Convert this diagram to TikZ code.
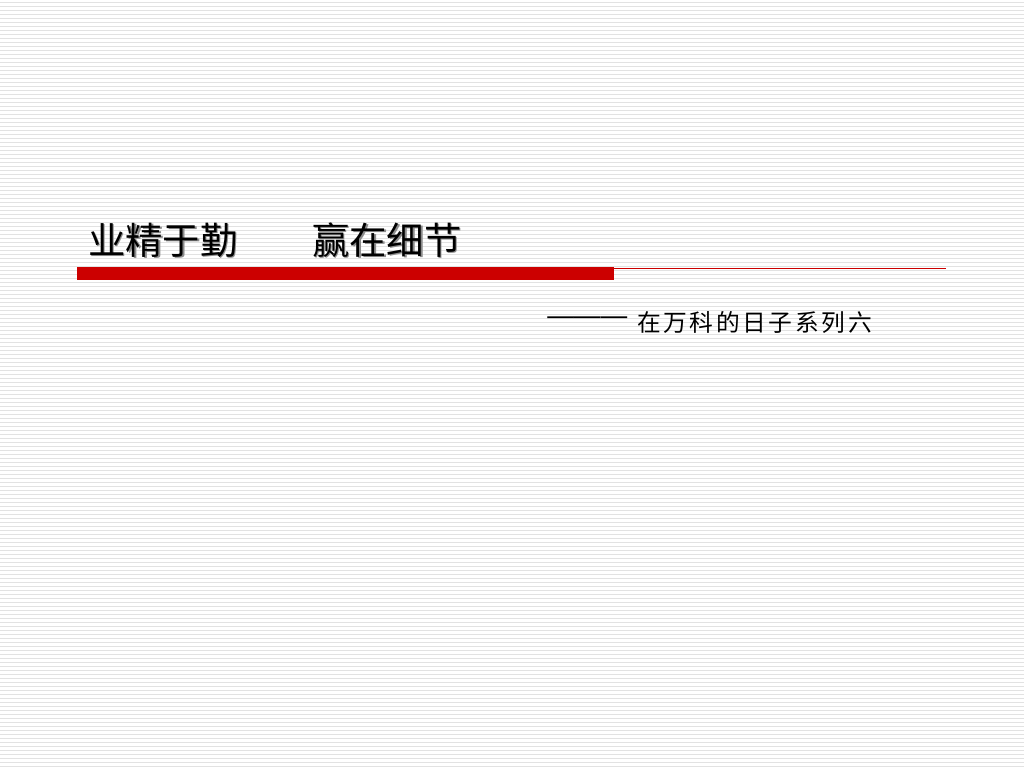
\documentclass[tikz,border=0pt]{standalone}
\usepackage{fontspec}
\newfontfamily\cjk{Noto Sans CJK SC}
\newfontfamily\cjksub[LetterSpace=11]{Noto Sans CJK SC}
\setmainfont{Liberation Sans}
\definecolor{barred}{HTML}{CC0000}
\definecolor{stripe}{HTML}{E2E2E2}
\begin{document}
\begin{tikzpicture}[x=0.75pt,y=-0.75pt,
  titletext/.style={anchor=west,inner sep=0pt,font=\cjk\fontsize{28}{30}\selectfont},
  subtext/.style={anchor=west,inner sep=0pt,font=\cjksub\fontsize{17.8}{20}\selectfont}]
\useasboundingbox (0,0) rectangle (1024,768);
\fill[white] (0,0) rectangle (1024,768);
\foreach \y in {2,6,...,766} \draw[stripe,line width=0.75pt] (0,\y) -- (1024,\y);
% bars
\fill[barred] (77,267) rectangle (614,280);
\coordinate (lineA) at (614,268.5);
\coordinate (lineB) at (946,268.5);
\draw[barred,line width=1.1pt] (lineA) -- (lineB);
% title with shadow
\node[titletext,text=black!45] (titleshadow) at (89.5,241.5) {业精于勤　　赢在细节};
\node[titletext,text=black] (title) at (88,240) {业精于勤　　赢在细节};
% subtitle
\node[anchor=west,inner sep=0pt,font=\fontsize{20}{22}\selectfont] (dash) at (547,321) {———};
\node[subtext] (sub) at (637,322) {在万科的日子系列六};
\end{tikzpicture}
\end{document}
